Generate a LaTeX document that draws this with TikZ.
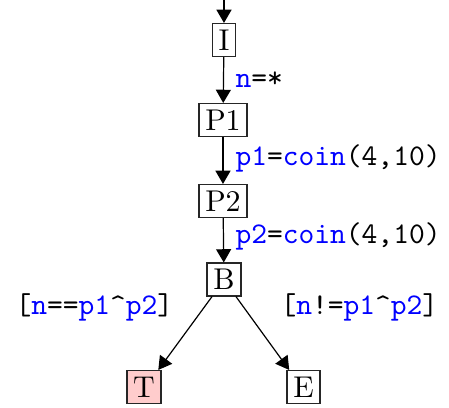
\documentclass[tikz,border=0pt]{standalone}
\usetikzlibrary{arrows.meta}
\definecolor{tpink}{RGB}{255,204,204}
\definecolor{vblue}{RGB}{0,0,255}
\tikzset{
  st/.style={draw=black!85, line width=0.45pt, inner xsep=2.1pt, inner ysep=0pt, minimum height=10.9pt, font=\rmfamily},
  edge/.style={line width=0.4pt, -{Triangle[length=4.4pt,width=5pt]}},
  lbl/.style={inner sep=0pt, anchor=west, font=\ttfamily},
}
\newcommand{\vb}[1]{\textcolor{vblue}{#1}}
\begin{document}
\begin{tikzpicture}[x=0.333pt, y=-0.333pt]
\useasboundingbox (0,0) rectangle (449,408);
\coordinate (start) at (224,0);
\node[st] (I) at (224,40) {I};
\node[st] (P1) at (223,120) {P1};
\node[st] (P2) at (223,201) {P2};
\node[st] (B) at (224,279.5) {B};
\node[st, fill=tpink] (T) at (144,387) {T};
\node[st] (E) at (303.5,387) {E};
\draw[edge] (start) -- (I);
\draw[edge] (I) -- (P1);
\draw[edge] (P1) -- (P2);
\draw[edge] (P2) -- (B);
\draw[edge] (B.235) -- (T.50);
\draw[edge] (B.305) -- (E.130);
\node[lbl] (l1) at (235,80) {\vb{n}=*};
\node[lbl] (l2) at (235,158) {\vb{p1}=\vb{coin}(4,10)};
\node[lbl] (l3) at (235,236) {\vb{p2}=\vb{coin}(4,10)};
\node[lbl] (l4) at (15,307) {[\vb{n}==\vb{p1}\textasciicircum\vb{p2}]};
\node[lbl] (l5) at (280,307) {[\vb{n}!=\vb{p1}\textasciicircum\vb{p2}]};
\end{tikzpicture}
\end{document}
